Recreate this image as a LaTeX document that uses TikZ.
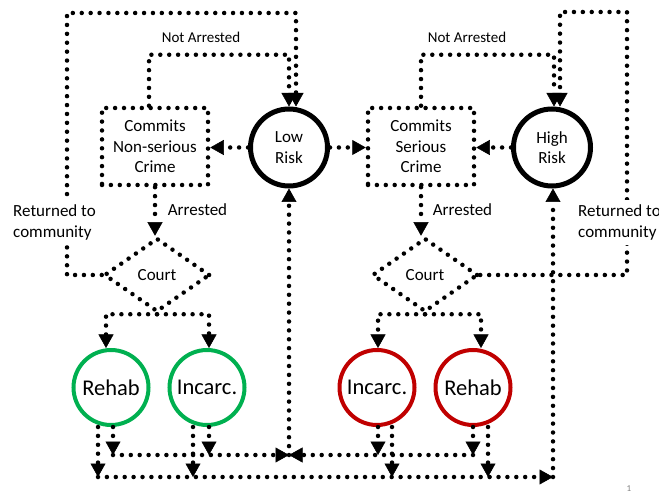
\documentclass[tikz,border=0pt]{standalone}
\usepackage{fontspec}
\setmainfont{Carlito}
\usetikzlibrary{arrows.meta,shapes.geometric}
\definecolor{grn}{RGB}{0,176,80}
\definecolor{rd}{RGB}{192,0,0}
\tikzset{
  dl/.style={line width=4.5pt, line cap=round, dash pattern=on 0pt off 8.9pt},
  tip/.style={-{Triangle[length=13.5pt,width=15pt,line width=0.5pt]}},
  txt/.style={font=\fontsize{17}{20.5}\selectfont},
  riskc/.style={circle, draw, line width=5pt, minimum size=77pt, inner sep=0pt, align=center, txt},
  outc/.style={circle, draw=#1, line width=4pt, minimum size=75pt, inner sep=0pt, font=\fontsize{22.5}{27}\selectfont},
  crime/.style={rectangle, draw, dl, minimum width=106pt, minimum height=77pt, align=center, txt},
  court/.style={diamond, draw, dl, minimum width=106pt, minimum height=74pt, inner sep=0pt, txt},
  small/.style={font=\fontsize{15}{18}\selectfont},
  ret/.style={txt, fill=white, align=left, anchor=west, inner xsep=3pt, inner ysep=5pt},
}
\begin{document}
\begin{tikzpicture}[x=1pt,y=-1pt]
\useasboundingbox (0,0) rectangle (659,494);
% nodes
\node[crime] (b1) at (155,146.5) {Commits\\Non-serious\\Crime};
\node[riskc] (low) at (289,147.5) {Low\\Risk};
\node[court] (c1) at (157,275) {Court};
\node[outc=grn] (r1) at (111,387.5) {Rehab};
\node[outc=grn] (i1) at (207,387.5) {Incarc.};
\node[crime] (b2) at (421,146.5) {Commits\\Serious\\Crime};
\node[riskc] (high) at (552,147.5) {High\\Risk};
\node[court] (c2) at (425,275) {Court};
\node[outc=rd] (i2) at (377,387.5) {Incarc.};
\node[outc=rd] (r2) at (473,387.5) {Rehab};
% corner coordinates
\coordinate (ol) at (67,13);
\coordinate (or) at (627,12);
\coordinate (U) at (289,455);
\coordinate (L) at (553,477);
% risk to crime
\draw[dl,tip] (low.west) -- (low.west -| b1.east);
\draw[dl,tip] (low.east) -- (low.east -| b2.west);
\draw[dl,tip] (high.west) -- (high.west -| b2.east);
% arrested
\draw[dl,tip] (b1.south) -- (b1.south |- c1.north);
\draw[dl,tip] (b2.south) -- (b2.south |- c2.north);
% not arrested
\draw[dl,tip] ([xshift=-6pt]b1.north) -- ++(0,-51) -| (low.north);
\draw[dl,tip] (b2.north) -- ++(0,-51) -| ([xshift=2pt]high.north);
% returned to community
\draw[dl,tip] (c1.west) -| (ol) -| ([xshift=7pt]low.north);
\draw[dl,tip] (c2.east) -| (or) -| ([xshift=8pt]high.north);
% court to outcomes
\draw[dl,tip] (c1.south) -| ([xshift=-5pt]r1.north);
\draw[dl,tip] (c1.south) -| ([xshift=2pt]i1.north);
\draw[dl,tip] (c2.south) -| ([xshift=1pt]i2.north);
\draw[dl,tip] (c2.south) -| ([xshift=8pt]r2.north);
% outcomes down to the return lines
\draw[dl,tip] ([xshift=2pt]r1.south) -- ([xshift=2pt]r1.south |- U);
\draw[dl,tip] ([xshift=-13pt]r1.south) -- ([xshift=-13pt]r1.south |- L);
\draw[dl,tip] ([xshift=2pt]i1.south) -- ([xshift=2pt]i1.south |- U);
\draw[dl,tip] ([xshift=-14pt]i1.south) -- ([xshift=-14pt]i1.south |- L);
\draw[dl,tip] ([xshift=1pt]i2.south) -- ([xshift=1pt]i2.south |- U);
\draw[dl,tip] ([xshift=15pt]i2.south) -- ([xshift=15pt]i2.south |- L);
\draw[dl,tip] (r2.south) -- (r2.south |- U);
\draw[dl,tip] ([xshift=15pt]r2.south) -- ([xshift=15pt]r2.south |- L);
% return lines
\draw[dl,tip] ([xshift=2pt]r1.south |- U) -- (U);
\draw[dl,tip] (r2.south |- U) -- (U);
\draw[dl,tip] (U) -- (U |- low.south);
\draw[dl,tip] ([xshift=-13pt]r1.south |- L) -- (L);
\draw[dl,tip] (L) -- (L |- high.south);
% labels
\node[small] (na1) at (201,37) {Not Arrested};
\node[small] (na2) at (467,37) {Not Arrested};
\node[txt] (ar1) at (197.5,210) {Arrested};
\node[txt] (ar2) at (462.5,210) {Arrested};
\node[ret] (rt1) at (10,222.5) {Returned to\\community};
\node[ret] (rt2) at (575,222.5) {Returned to\\community};
\node[font=\fontsize{9}{10}\selectfont, text=gray] (pg) at (629,489) {1};
\end{tikzpicture}
\end{document}
